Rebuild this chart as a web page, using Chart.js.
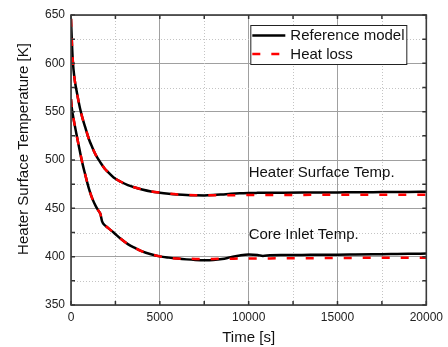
<!DOCTYPE html>
<html>
<head>
<meta charset="utf-8">
<script src="https://cdn.jsdelivr.net/npm/chart.js@4"></script>
<style>
  html, body { margin: 0; padding: 0; background: #fff; }
</style>
</head>
<body>
<canvas id="chart" width="448" height="347"></canvas>
<script>
// time axis [s], shared by all four curves
const time = [0, 50, 100, 200, 300, 400, 500, 650, 800, 1000,
  1200, 1400, 1600, 1650, 1750, 1900, 2000, 2400, 2800, 3200,
  3600, 4000, 4500, 5000, 5500, 6000, 6500, 7000, 7500, 8000,
  8500, 9000, 9500, 10000, 10500, 10800, 11200, 12000, 13000, 14000,
  15000, 16000, 17000, 18000, 19000, 20000];

// heater surface temperature [K]
const heaterRef = [646, 622, 603, 584, 573, 563, 554, 543, 534, 522,
  513, 505, 499, 497.5, 494.8, 491, 489, 482, 477.5, 474,
  471.5, 469.5, 467.5, 466.2, 465.2, 464.4, 463.8, 463.5, 463.4, 463.7,
  464.3, 465, 465.5, 465.8, 466, 466.1, 466.1, 466.2, 466.3, 466.4,
  466.5, 466.6, 466.7, 466.9, 467, 467.2];
const heaterLoss = [646, 622, 603, 584, 573, 563, 554, 543, 534, 522,
  513, 505, 499, 497.5, 494.8, 491, 489, 482, 477.5, 474,
  471.5, 469.5, 467.5, 466.2, 465.2, 464.4, 463.9, 463.6, 463.5, 463.5,
  463.6, 463.6, 463.7, 463.7, 463.8, 463.8, 463.8, 463.9, 463.9, 464,
  464, 464, 464, 464.1, 464.1, 464.1];

// core inlet temperature [K]
const coreRef = [563, 553, 547, 537, 527.5, 518, 509, 496, 485, 471,
  460, 452, 446, 444.5, 436.5, 432.5, 431, 425, 418.5, 413,
  409, 405.5, 402.5, 400.3, 399, 398, 397.2, 396.6, 396.3, 396.5,
  397.5, 399.5, 401.3, 402.3, 401.8, 400.8, 401.4, 401.7, 401.8, 402,
  402.1, 402.3, 402.5, 402.7, 402.9, 403.2];
const coreLoss = [563, 553, 547, 537, 527.5, 518, 509, 496, 485, 471,
  460, 452, 446, 444.5, 436.5, 432.5, 431, 425, 418.5, 413,
  409, 405.5, 402.5, 400.3, 399, 398, 397.8, 397.7, 397.7, 397.7,
  397.8, 397.9, 398, 398, 398.1, 398.1, 398.2, 398.3, 398.4, 398.5,
  398.6, 398.7, 398.8, 398.8, 398.9, 399];

const seriesNames = ['Reference model', 'Heat loss'];
const curveLabels = ['Heater Surface Temp.', 'Core Inlet Temp.'];
const labelAt = [[10000, 482], [10000, 418]]; // data coords of the text baselines

const FONT = "'Liberation Sans', Arial, sans-serif";
Chart.defaults.font.family = FONT;
Chart.defaults.color = '#222';

const pts = vals => time.map((t, i) => ({ x: t, y: vals[i] }));

// lower order is drawn last, so the red dashes sit on top of the black lines
const lineStyle = (name, vals, color, dash, order) => ({
  label: name,
  data: pts(vals),
  borderColor: color,
  borderWidth: 2.5,
  borderDash: dash,
  pointRadius: 0,
  fill: false,
  order: order,
  cubicInterpolationMode: 'monotone'
});

// minor grid, frame, inward ticks, legend box and curve labels
const decorations = {
  id: 'decorations',
  beforeDatasetsDraw(chart) {
    const { ctx, chartArea: a, scales: { x, y } } = chart;
    ctx.save();
    ctx.strokeStyle = '#c4c4c4';
    ctx.lineWidth = 1;
    ctx.setLineDash([1, 2]);
    ctx.beginPath();
    for (let v = 2500; v < 20000; v += 5000) {
      const px = Math.round(x.getPixelForValue(v)) + 0.5;
      ctx.moveTo(px, a.top); ctx.lineTo(px, a.bottom);
    }
    for (let v = 375; v < 650; v += 50) {
      const py = Math.round(y.getPixelForValue(v)) + 0.5;
      ctx.moveTo(a.left, py); ctx.lineTo(a.right, py);
    }
    ctx.stroke();
    ctx.restore();
  },
  afterDatasetsDraw(chart) {
    const { ctx, chartArea: a, scales: { x, y } } = chart;
    ctx.save();
    // ticks on all four sides
    ctx.strokeStyle = '#333';
    ctx.lineWidth = 1.5;
    ctx.beginPath();
    for (let v = 0; v <= 20000; v += 2500) {
      const px = x.getPixelForValue(v);
      ctx.moveTo(px, a.bottom); ctx.lineTo(px, a.bottom - 4);
      ctx.moveTo(px, a.top); ctx.lineTo(px, a.top + 4);
    }
    for (let v = 350; v <= 650; v += 25) {
      const py = y.getPixelForValue(v);
      ctx.moveTo(a.left, py); ctx.lineTo(a.left + 4, py);
      ctx.moveTo(a.right, py); ctx.lineTo(a.right - 4, py);
    }
    ctx.stroke();
    // frame
    ctx.lineWidth = 1.6;
    ctx.strokeStyle = '#3a3a3a';
    ctx.strokeRect(a.left, a.top, a.right - a.left, a.bottom - a.top);

    // curve labels
    ctx.fillStyle = '#111';
    ctx.font = '15px ' + FONT;
    ctx.textAlign = 'left';
    ctx.textBaseline = 'alphabetic';
    curveLabels.forEach((txt, i) => {
      ctx.fillText(txt, x.getPixelForValue(labelAt[i][0]), y.getPixelForValue(labelAt[i][1]));
    });

    // legend
    const bx = a.right - 176, by = a.top + 10, bw = 156, bh = 39;
    ctx.fillStyle = '#fff';
    ctx.fillRect(bx, by, bw, bh);
    ctx.strokeStyle = '#222';
    ctx.lineWidth = 1;
    ctx.strokeRect(bx + 0.5, by + 0.5, bw, bh);
    const ds = chart.data.datasets;
    [ds[0], ds[2]].forEach((d, i) => {
      const ry = by + 10.5 + i * 18.5;
      ctx.beginPath();
      ctx.strokeStyle = d.borderColor;
      ctx.lineWidth = 2.5;
      ctx.setLineDash(d.borderDash || []);
      ctx.moveTo(bx + 2, ry); ctx.lineTo(bx + 35, ry);
      ctx.stroke();
      ctx.setLineDash([]);
      ctx.fillStyle = '#111';
      ctx.textBaseline = 'middle';
      ctx.fillText(seriesNames[i], bx + 40, ry + 0.5);
    });

    // y axis title (sits a little above centre in the original)
    ctx.translate(a.left - 43, a.top + 134);
    ctx.rotate(-Math.PI / 2);
    ctx.textAlign = 'center';
    ctx.textBaseline = 'alphabetic';
    ctx.fillStyle = '#111';
    ctx.fillText('Heater Surface Temperature [K]', 0, 0);
    ctx.restore();
  }
};

const chart = new Chart(document.getElementById('chart'), {
  type: 'line',
  data: {
    datasets: [
      lineStyle(seriesNames[0], heaterRef, '#000', [], 2),
      lineStyle(seriesNames[0], coreRef, '#000', [], 2),
      lineStyle(seriesNames[1], heaterLoss, '#ff0000', [8, 11], 1),
      lineStyle(seriesNames[1], coreLoss, '#ff0000', [8, 11], 1)
    ]
  },
  options: {
    responsive: false,
    animation: false,
    layout: { padding: { top: 15, right: 17, left: 0, bottom: 0 } },
    plugins: {
      legend: { display: false },
      tooltip: { enabled: false }
    },
    scales: {
      x: {
        type: 'linear',
        min: 0,
        max: 20000,
        ticks: { stepSize: 5000, padding: 5, maxRotation: 0, font: { size: 12 }, callback: v => String(v) },
        grid: { color: '#a0a0a0', lineWidth: 1, drawTicks: false },
        border: { display: false },
        title: { display: true, text: 'Time [s]', font: { size: 15 }, color: '#111', padding: 0 },
        afterFit: s => { s.height = 42; }
      },
      y: {
        min: 350,
        max: 650,
        ticks: { stepSize: 50, padding: 6, font: { size: 12 }, callback: v => String(v) },
        grid: { color: '#a0a0a0', lineWidth: 1, drawTicks: false },
        border: { display: false },
        afterFit: s => { s.width = 71; }
      }
    }
  },
  plugins: [decorations]
});
</script>
</body>
</html>
